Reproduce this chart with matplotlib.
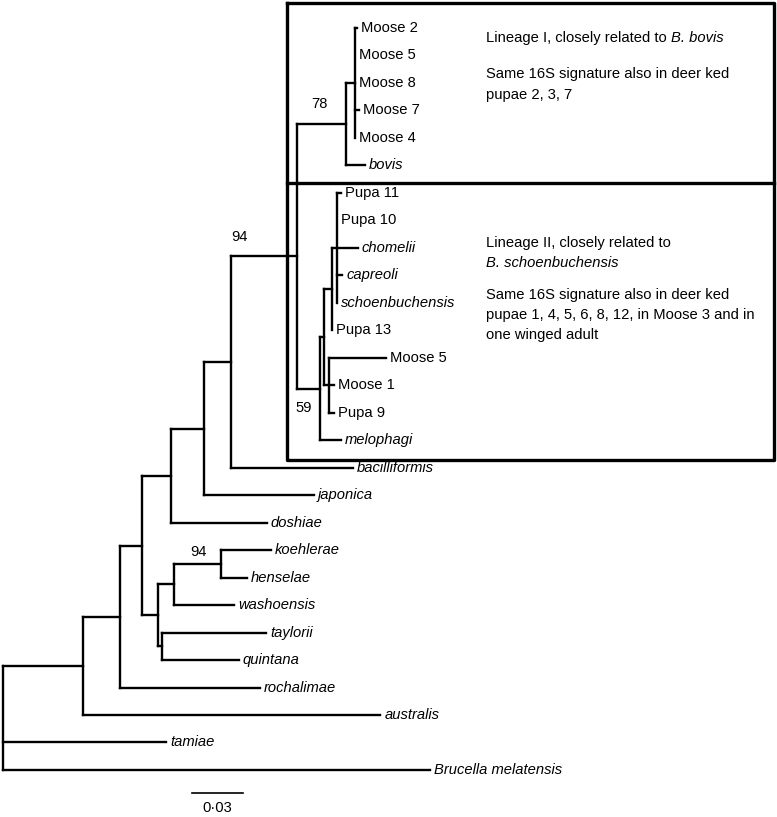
import matplotlib
matplotlib.use("Agg")
import matplotlib.pyplot as plt
from matplotlib.collections import LineCollection

# tree as parent table, children listed top to bottom
node_ids = ["A", "B", "C", "D", "I", "J", "L", "M", "N",
            "moose2", "moose5_I", "moose8", "moose7", "moose4", "bovis",
            "P", "R", "S", "U", "pupa11", "pupa10", "chomelii", "capreoli",
            "schoenbuchensis", "pupa13", "T", "moose5_II", "moose1", "pupa9",
            "melophagi", "bacilliformis", "japonica", "doshiae",
            "E", "F", "H", "koehlerae", "henselae", "washoensis",
            "G", "taylorii", "quintana", "rochalimae", "australis",
            "tamiae", "brucella"]
parent_ids = ["root", "A", "B", "C", "D", "I", "J", "L", "M",
              "N", "N", "N", "N", "N", "M",
              "L", "P", "R", "S", "U", "U", "U", "U",
              "U", "S", "R", "T", "T", "T",
              "P", "J", "I", "D",
              "C", "E", "F", "H", "H", "F",
              "E", "G", "G", "B", "A",
              "root", "root"]
branch_lengths = [0.047, 0.022, 0.013, 0.017, 0.019, 0.016, 0.039, 0.029, 0.0053,
                  0.0012, 0.0, 0.0, 0.0024, 0.0, 0.011,
                  0.0135, 0.0024, 0.0047, 0.003, 0.0024, 0.0, 0.012, 0.003,
                  0.0, 0.0, 0.003, 0.0335, 0.003, 0.003,
                  0.0124, 0.072, 0.065, 0.056,
                  0.0094, 0.0094, 0.0276, 0.029, 0.015, 0.035,
                  0.0024, 0.061, 0.045, 0.082, 0.175,
                  0.096, 0.251]

tip_labels = {
    "moose2": "Moose 2", "moose5_I": "Moose 5", "moose8": "Moose 8",
    "moose7": "Moose 7", "moose4": "Moose 4", "bovis": "bovis",
    "pupa11": "Pupa 11", "pupa10": "Pupa 10", "chomelii": "chomelii",
    "capreoli": "capreoli", "schoenbuchensis": "schoenbuchensis",
    "pupa13": "Pupa 13", "moose5_II": "Moose 5", "moose1": "Moose 1",
    "pupa9": "Pupa 9", "melophagi": "melophagi", "bacilliformis": "bacilliformis",
    "japonica": "japonica", "doshiae": "doshiae", "koehlerae": "koehlerae",
    "henselae": "henselae", "washoensis": "washoensis", "taylorii": "taylorii",
    "quintana": "quintana", "rochalimae": "rochalimae", "australis": "australis",
    "tamiae": "tamiae", "brucella": "Brucella melatensis",
}
upright_tips = ["moose2", "moose5_I", "moose8", "moose7", "moose4", "pupa11",
                "pupa10", "pupa13", "moose5_II", "moose1", "pupa9"]

support_nodes = ["L", "M", "P", "H"]
support_values = ["94", "78", "59", "94"]

scale_bar = 0.03

plt.rcParams["font.family"] = ["Liberation Sans", "DejaVu Sans"]
FS = 10.6
LW = 1.7

# ---- layout ----
children = {}
length = {}
for n, p, l in zip(node_ids, parent_ids, branch_lengths):
    children.setdefault(p, []).append(n)
    length[n] = l

xpos = {"root": 0.0}
ypos = {}
counter = [0]


def place(node):
    kids = children.get(node, [])
    for k in kids:
        xpos[k] = xpos[node] + length[k]
        place(k)
    if kids:
        ypos[node] = (ypos[kids[0]] + ypos[kids[-1]]) / 2
    else:
        ypos[node] = counter[0]
        counter[0] += 1


place("root")

W, H = 777, 817
fig = plt.figure(figsize=(W / 100, H / 100), dpi=100)
ax = fig.add_axes([0, 0, 1, 1])
px_per_unit = 1700.0
x0_px = 3.0
y0_px, dy_px = 28.0, 27.48
ax.set_xlim(-x0_px / px_per_unit, (W - x0_px) / px_per_unit)
ax.set_ylim((H - y0_px) / dy_px, -y0_px / dy_px)
ax.axis("off")

segs = []
for node, kids in children.items():
    segs.append([(xpos[node], ypos[kids[0]]), (xpos[node], ypos[kids[-1]])])
    for k in kids:
        segs.append([(xpos[node], ypos[k]), (xpos[k], ypos[k])])
ax.add_collection(LineCollection(segs, colors="black", linewidths=LW,
                                 capstyle="projecting"))

for tip, lab in tip_labels.items():
    ax.annotate(lab, (xpos[tip], ypos[tip]), xytext=(4, 0),
                textcoords="offset pixels", va="center", ha="left",
                fontsize=FS, style="normal" if tip in upright_tips else "italic")

# offsets in pixels, y up
support_offsets = [(-58, 19), (-27, 20), (-16, -19), (-23, 12)]
for node, val, off in zip(support_nodes, support_values, support_offsets):
    ax.annotate(val, (xpos[node], ypos[node]), xytext=off,
                textcoords="offset pixels", va="center", ha="center", fontsize=FS)

# scale bar
sb_x = (192 - x0_px) / px_per_unit
sb_y = (793 - y0_px) / dy_px
ax.plot([sb_x, sb_x + scale_bar], [sb_y, sb_y], color="black", lw=1.2)
ax.annotate("0\u00b7%02d" % round(scale_bar * 100), (sb_x + scale_bar / 2, sb_y),
            xytext=(0, -15), textcoords="offset pixels", ha="center", va="center",
            fontsize=FS)

# lineage boxes and notes, in pixel coords
ov = fig.add_axes([0, 0, 1, 1], facecolor="none")
ov.set_xlim(0, W)
ov.set_ylim(H, 0)
ov.axis("off")
box_kw = dict(color="black", lw=2.4, solid_capstyle="projecting")
ov.plot([287, 774, 774, 287, 287], [3, 3, 460, 460, 3], **box_kw)
ov.plot([287, 774], [183, 183], **box_kw)

tx = 486
t1 = ov.text(tx, 38, "Lineage I, closely related to ", fontsize=FS, va="center")
ov.annotate("B. bovis", xy=(1, 0.5), xycoords=t1, va="center", ha="left",
            fontsize=FS, style="italic")
ov.text(tx, 74, "Same 16S signature also in deer ked", fontsize=FS, va="center")
ov.text(tx, 95, "pupae 2, 3, 7", fontsize=FS, va="center")

ov.text(tx, 243, "Lineage II, closely related to", fontsize=FS, va="center")
ov.text(tx, 263, "B. schoenbuchensis", fontsize=FS, va="center", style="italic")
ov.text(tx, 295, "Same 16S signature also in deer ked", fontsize=FS, va="center")
ov.text(tx, 315, "pupae 1, 4, 5, 6, 8, 12, in Moose 3 and in", fontsize=FS, va="center")
ov.text(tx, 335, "one winged adult", fontsize=FS, va="center")

fig.savefig("out.png", dpi=100)
